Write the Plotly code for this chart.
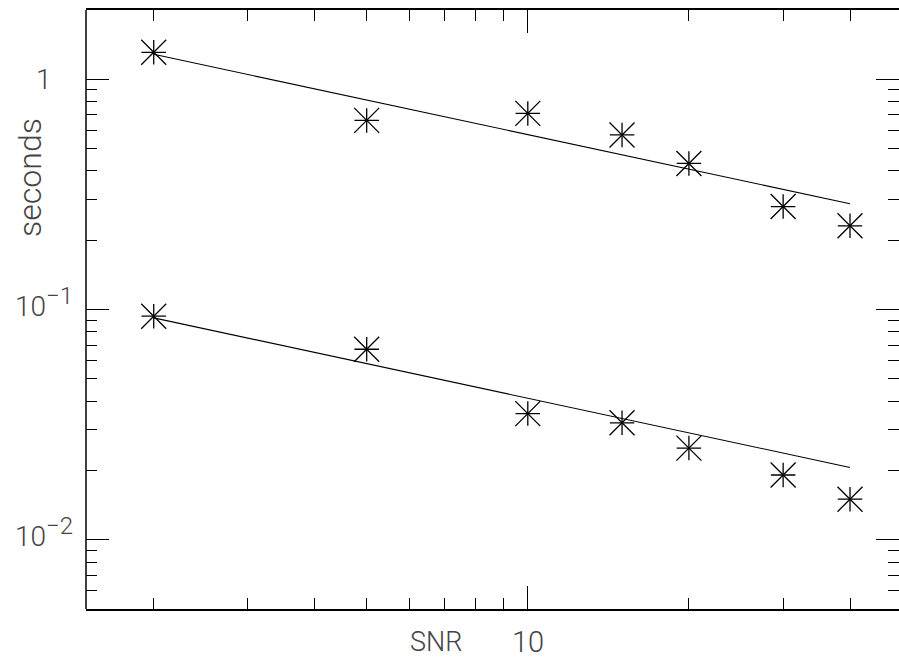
import numpy as np
import plotly.graph_objects as go

# Signal-to-noise ratios and measured run times (seconds) for two methods
snr = [2, 5, 10, 15, 20, 30, 40]
time_slow = [1.31, 0.663, 0.711, 0.573, 0.431, 0.280, 0.231]
time_fast = [0.0935, 0.0672, 0.0353, 0.0322, 0.0250, 0.0191, 0.0150]

# Power-law fit lines, evaluated at the ends of the SNR span
fit_snr = [2, 40]
fit_slow = [1.284, 0.288]
fit_fast = [0.092, 0.0206]

# Axis ticks
x_major = [10]
x_major_text = ["10"]
x_minor = [2, 3, 4, 5, 6, 7, 8, 9, 20, 30, 40]
y_major = [1, 0.1, 0.01]
y_major_text = ["1",
                "10<sup><span style='font-size:24px'>\u22121</span></sup>",
                "10<sup><span style='font-size:24px'>\u22122</span></sup>"]
y_minor = [0.006, 0.007, 0.008, 0.009,
           0.02, 0.03, 0.04, 0.05, 0.06, 0.07, 0.08, 0.09,
           0.2, 0.3, 0.4, 0.5, 0.6, 0.7, 0.8, 0.9]

FONT = "Roboto"
TXT = "#444444"

fig = go.Figure()

for ys in (time_slow, time_fast):
    # eight-ray star: a diagonal cross overlaid on an upright cross
    fig.add_trace(go.Scatter(
        x=snr, y=ys, mode="markers", showlegend=False, hoverinfo="skip",
        marker=dict(symbol="x-thin", size=25, line=dict(color="black", width=1.3))))
    fig.add_trace(go.Scatter(
        x=snr, y=ys, mode="markers", showlegend=False,
        marker=dict(symbol="cross-thin", size=17.5, line=dict(color="black", width=1.3))))

for fy in (fit_slow, fit_fast):
    fig.add_trace(go.Scatter(
        x=fit_snr, y=fy, mode="lines", showlegend=False,
        line=dict(color="black", width=1.1)))

fig.update_xaxes(
    type="log", range=[0.1745, 1.6936], automargin=False,
    showline=True, linecolor="black", linewidth=1.5, mirror="ticks",
    showgrid=False, zeroline=False,
    tickmode="array", tickvals=x_major, showticklabels=False,
    ticks="inside", ticklen=23, tickwidth=1.2, tickcolor="black",
    minor=dict(tickmode="array", tickvals=x_minor, ticks="inside",
               ticklen=11, tickwidth=1.2, tickcolor="black", showgrid=False),
)

fig.update_yaxes(
    type="log", range=[np.log10(0.005), np.log10(2)], automargin=False,
    showline=False, mirror="ticks",
    showgrid=False, zeroline=False,
    tickmode="array", tickvals=y_major, showticklabels=False,
    ticks="inside", ticklen=23, tickwidth=1.2, tickcolor="black",
    minor=dict(tickmode="array", tickvals=y_minor, ticks="inside",
               ticklen=11, tickwidth=1.2, tickcolor="black", showgrid=False),
)

# left frame edge
fig.add_shape(type="line", xref="paper", yref="paper", x0=0, x1=0, y0=0, y1=1,
              line=dict(color="black", width=1.5))

annotations = []
for v, t in zip(y_major, y_major_text):
    annotations.append(dict(
        x=-0.052, xref="paper", y=np.log10(v), yref="y",
        text=t, showarrow=False, xanchor="center", yanchor="middle",
        yshift=7 if "sup" in t else 0,
        font=dict(family=FONT, size=28, color=TXT, weight=300)))

for v, t in zip(x_major, x_major_text):
    annotations.append(dict(
        x=np.log10(v), xref="x", y=-0.055, yref="paper",
        text=t, showarrow=False, xanchor="center", yanchor="middle",
        font=dict(family=FONT, size=29, color=TXT, weight=300)))

annotations.append(dict(
    x=0.4305, xref="paper", y=-0.055, yref="paper", text="SNR",
    showarrow=False, xanchor="center", yanchor="middle",
    font=dict(family=FONT, size=27, color=TXT, weight=300)))
annotations.append(dict(
    x=-0.069, xref="paper", y=0.7212, yref="paper", text="seconds",
    textangle=-90, showarrow=False, xanchor="center", yanchor="middle",
    font=dict(family=FONT, size=32, color=TXT, weight=300)))

fig.update_layout(
    width=899, height=663,
    margin=dict(l=86, r=0, t=10, b=54),
    paper_bgcolor="white", plot_bgcolor="white",
    annotations=annotations,
)

fig.write_html("out.html")
